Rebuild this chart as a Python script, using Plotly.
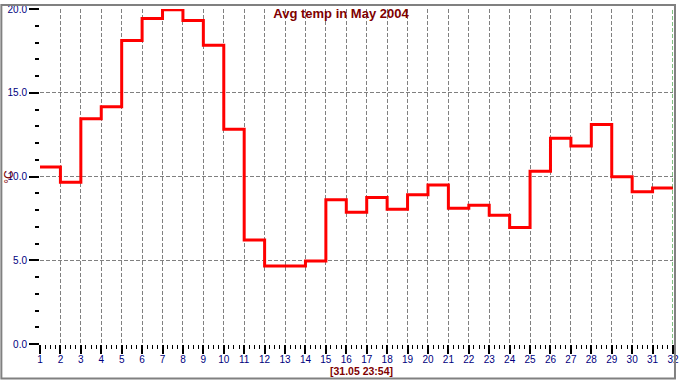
import plotly.graph_objects as go

# ---- data ----
days = list(range(1, 32))
temps = [10.56, 9.65, 13.45, 14.16, 18.12, 19.43, 19.96, 19.31, 17.83, 12.82,
         6.21, 4.66, 4.66, 4.96, 8.61, 7.87, 8.75, 8.04, 8.91, 9.50,
         8.10, 8.28, 7.69, 6.96, 10.32, 12.29, 11.82, 13.10, 9.99, 9.09, 9.32]
x_end = 32                      # end of last day / "now" marker
title_text = "Avg temp in May 2004"
unit_text = "°C"
stamp_text = "[31.05 23:54]"

# ---- geometry ----
W, H = 682, 380
ML, MR, MT, MB = 40, 3, 5, 36
PW, PH = W - ML - MR, H - MT - MB

def px_x(p):
    return (p - ML) / PW

def px_y(p):
    return (H - MB - p) / PH

DARKRED = "#800000"
NAVY = "#000080"
GRID = "#808080"
FONT = "Liberation Sans, Arial, sans-serif"

x_steps = days + [x_end]
y_steps = temps + [temps[-1]]

fig = go.Figure()
fig.add_trace(go.Scatter(
    x=x_steps, y=y_steps, mode="lines", line_shape="hv",
    line=dict(color="#ff0000", width=3), hoverinfo="skip", showlegend=False,
))

fig.update_layout(
    width=W, height=H,
    margin=dict(l=ML, r=MR, t=MT, b=MB, pad=0),
    paper_bgcolor="white", plot_bgcolor="white",
    showlegend=False,
    title=dict(text=title_text, x=0.5, xref="container", xanchor="center",
               y=1 - 13 / H, yref="container", yanchor="middle",
               font=dict(family=FONT, size=13, color=DARKRED, weight="bold")),
    xaxis=dict(
        range=[1, x_end], tickmode="linear", tick0=1, dtick=1,
        showgrid=True, gridcolor=GRID, griddash="4px,2px", gridwidth=1,
        zeroline=False, showline=False, ticklabeloverflow="allow",
        ticks="outside", ticklen=9, tickwidth=2, tickcolor="black",
        ticklabelstandoff=-3,
        tickfont=dict(family=FONT, size=10, color=NAVY),
        minor=dict(dtick=0.25, tick0=1, ticks="outside", ticklen=4,
                   tickwidth=1, tickcolor="black", showgrid=False),
    ),
    yaxis=dict(
        range=[0, 20], tickmode="linear", tick0=0, dtick=5, tickformat=".1f",
        showgrid=True, gridcolor=GRID, griddash="4px,2px", gridwidth=1,
        zeroline=False, showline=False, ticklabeloverflow="allow",
        ticks="outside", ticklen=10, tickwidth=2, tickcolor="black",
        tickfont=dict(family=FONT, size=10, color=NAVY),
        minor=dict(dtick=1, tick0=0, ticks="outside", ticklen=4,
                   tickwidth=2, tickcolor="black", showgrid=False),
    ),
)

# "now" marker at end of data
fig.add_shape(type="line", xref="x", yref="paper", x0=x_end, x1=x_end, y0=0, y1=1,
              line=dict(color="#008000", width=1, dash="4px,2px"))

# outer frame
fig.add_shape(type="rect", xref="paper", yref="paper",
              x0=px_x(1), x1=px_x(681), y0=px_y(379), y1=px_y(1),
              line=dict(color="#808080", width=2), fillcolor="rgba(0,0,0,0)")

fig.add_annotation(text=unit_text, xref="paper", yref="paper",
                   x=px_x(8), y=0.5, xanchor="center", yanchor="middle",
                   textangle=-90, showarrow=False,
                   font=dict(family=FONT, size=12, color=DARKRED))
fig.add_annotation(text=stamp_text, xref="paper", yref="paper",
                   x=px_x(365), y=px_y(371), xanchor="center", yanchor="middle",
                   showarrow=False,
                   font=dict(family=FONT, size=10.5, color=DARKRED, weight="bold"))

fig.write_html(
    "out.html",
    config={"displayModeBar": False},
    post_script="document.body.style.margin='0';document.body.style.padding='0';"
                "document.body.style.overflow='hidden';",
)
